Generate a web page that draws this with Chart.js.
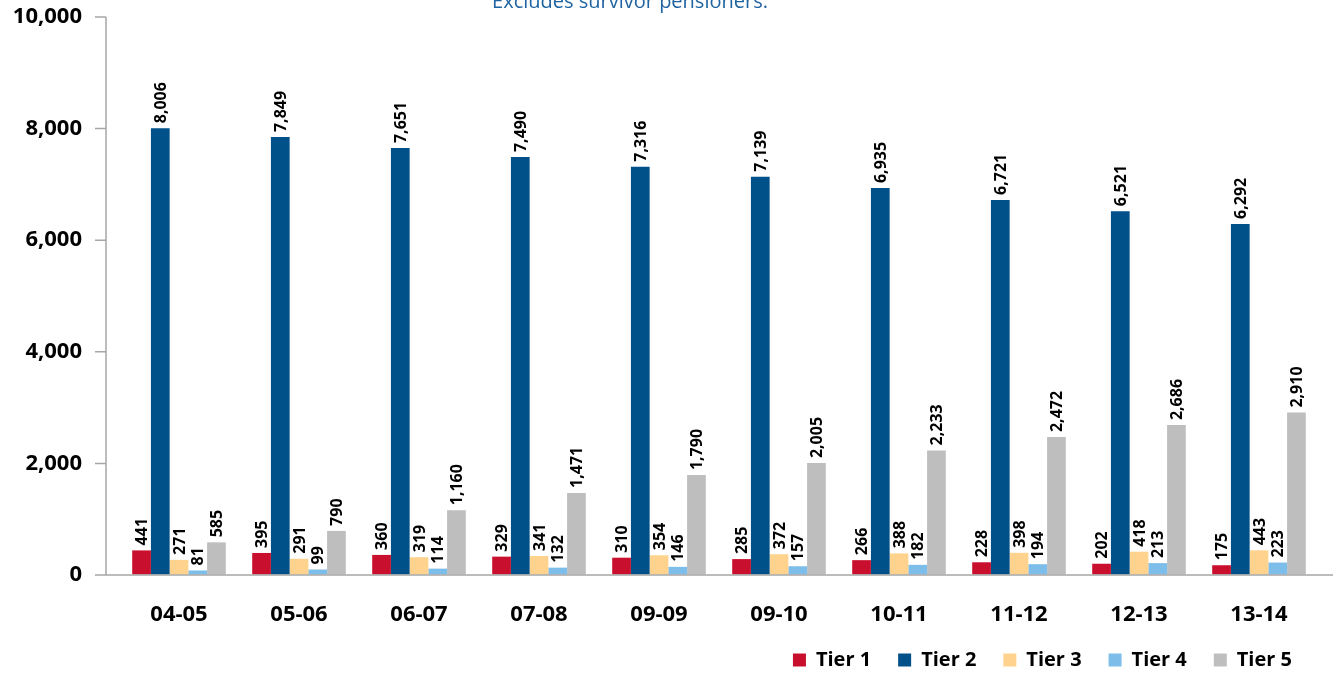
<!DOCTYPE html>
<html>
<head>
<meta charset="utf-8">
<script src="https://cdn.jsdelivr.net/npm/chart.js@4.4.0/dist/chart.umd.min.js"></script>
<style>
  html, body { margin: 0; padding: 0; background: #fff; }
</style>
</head>
<body>
<canvas id="myChart" width="1338" height="675"></canvas>
<script>
// values
var years = ['04-05', '05-06', '06-07', '07-08', '09-09', '09-10', '10-11', '11-12', '12-13', '13-14'];
var tier1 = [441, 395, 360, 329, 310, 285, 266, 228, 202, 175];
var tier2 = [8006, 7849, 7651, 7490, 7316, 7139, 6935, 6721, 6521, 6292];
var tier3 = [271, 291, 319, 341, 354, 372, 388, 398, 418, 443];
var tier4 = [81, 99, 114, 132, 146, 157, 182, 194, 213, 223];
var tier5 = [585, 790, 1160, 1471, 1790, 2005, 2233, 2472, 2686, 2910];
var yTicks = [0, 2000, 4000, 6000, 8000, 10000];
var note = 'Excludes survivor pensioners.';

var AXIS = '#a6a6a6';

// axis lines sit a bit outside the category band, like the original
var axesLines = {
  id: 'axesLines',
  afterDraw: function (chart) {
    var ctx = chart.ctx, a = chart.chartArea, y = chart.scales.y;
    var x0 = a.left - 13;
    ctx.save();
    ctx.strokeStyle = AXIS;
    ctx.lineWidth = 1.5;
    ctx.beginPath();
    ctx.moveTo(x0, y.getPixelForValue(10000));
    ctx.lineTo(x0, a.bottom);
    ctx.lineTo(a.right + 14, a.bottom);
    yTicks.forEach(function (t) {
      var py = y.getPixelForValue(t);
      ctx.moveTo(x0 - 11, py);
      ctx.lineTo(x0, py);
    });
    ctx.stroke();
    ctx.restore();
  }
};

// rotated value labels above each bar
var barLabels = {
  id: 'barLabels',
  afterDatasetsDraw: function (chart) {
    var ctx = chart.ctx;
    ctx.save();
    ctx.font = 'bold 16px "Open Sans"';
    ctx.fillStyle = '#000';
    ctx.textAlign = 'left';
    ctx.textBaseline = 'middle';
    chart.data.datasets.forEach(function (ds, i) {
      chart.getDatasetMeta(i).data.forEach(function (bar, j) {
        ctx.save();
        ctx.translate(bar.x + 1, bar.y - 5);
        ctx.rotate(-Math.PI / 2);
        ctx.fillText(ds.data[j].toLocaleString('en-US'), 0, 0);
        ctx.restore();
      });
    });
    ctx.restore();
  }
};

var topNote = {
  id: 'topNote',
  afterDraw: function (chart) {
    var ctx = chart.ctx;
    ctx.save();
    ctx.font = '20px "Open Sans"';
    ctx.fillStyle = '#1f63a0';
    ctx.textAlign = 'center';
    ctx.textBaseline = 'alphabetic';
    ctx.fillText(note, 630, 8);
    ctx.restore();
  }
};

var ctx = document.getElementById('myChart').getContext('2d');
var myChart = new Chart(ctx, {
  type: 'bar',
  data: {
    labels: years,
    datasets: [
      { label: 'Tier 1', data: tier1, backgroundColor: '#c8102e' },
      { label: 'Tier 2', data: tier2, backgroundColor: '#00508a' },
      { label: 'Tier 3', data: tier3, backgroundColor: '#ffd38d' },
      { label: 'Tier 4', data: tier4, backgroundColor: '#7dbde9' },
      { label: 'Tier 5', data: tier5, backgroundColor: '#bebebf' }
    ]
  },
  options: {
    responsive: false,
    animation: false,
    layout: { padding: { left: 11, right: 19, top: 17, bottom: -5 } },
    datasets: { bar: { categoryPercentage: 0.78, barPercentage: 1.0 } },
    scales: {
      x: {
        grid: { display: false, drawTicks: false },
        border: { display: false },
        ticks: { color: '#000', padding: 27, font: { family: 'Open Sans', weight: 'bold', size: 22 } },
        afterFit: function (s) { s.height = 48; }
      },
      y: {
        min: 0,
        max: 10000,
        afterBuildTicks: function (s) { s.ticks = yTicks.map(function (v) { return { value: v }; }); },
        grid: { display: true, drawOnChartArea: false, drawTicks: true, tickLength: 37, tickColor: 'rgba(0,0,0,0)' },
        border: { display: false },
        ticks: {
          color: '#000',
          padding: 0,
          font: { family: 'Open Sans', weight: 'bold', size: 22 },
          callback: function (v) { return v.toLocaleString('en-US'); }
        },
        afterFit: function (s) { s.width = 108; }
      }
    },
    plugins: {
      tooltip: { enabled: false },
      legend: {
        position: 'bottom',
        align: 'end',
        labels: {
          boxWidth: 13,
          boxHeight: 13,
          padding: 27,
          color: '#000',
          font: { family: 'Open Sans', weight: 'bold', size: 20 }
        }
      }
    }
  },
  plugins: [axesLines, barLabels, topNote]
});
</script>
</body>
</html>
